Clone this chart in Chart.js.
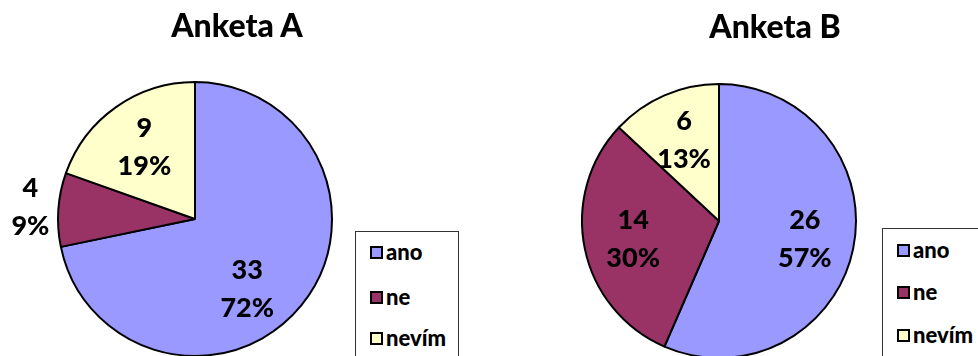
<!DOCTYPE html>
<html><head><meta charset="utf-8">
<script src="https://cdn.jsdelivr.net/npm/chart.js@4/dist/chart.umd.min.js"></script>
<style>
html,body{margin:0;padding:0;background:#fff;overflow:hidden;width:978px;height:356px}
#wrap{position:relative;width:978px;height:356px;overflow:hidden;font-family:Lato,"DejaVu Sans",sans-serif;font-weight:900;color:#000}
canvas{position:absolute;top:0}
.title{position:absolute;font-size:32px;line-height:1;white-space:nowrap;transform:translateX(-50%)}
.legend{position:absolute;border:1px solid #333;background:#fff;box-sizing:border-box}
.item{position:absolute;height:24px;font-size:22px;line-height:24px;white-space:nowrap;display:flex;align-items:center}
.sw{display:inline-block;width:9px;height:9px;border:2px solid #000;margin-right:3px}
</style>
</head><body>
<div id="wrap">
  <canvas id="cA" width="489" height="360" style="left:0"></canvas>
  <canvas id="cB" width="489" height="360" style="left:489px"></canvas>
  <div class="title" id="tA" style="left:237px;top:9px"></div>
  <div class="title" id="tB" style="left:775px;top:10px"></div>
  <div class="legend" id="lA" style="left:355px;top:231px;width:104px;height:140px"></div>
  <div class="legend" id="lB" style="left:882px;top:228px;width:120px;height:140px"></div>
</div>
<script>
const categories = ["ano", "ne", "nevím"];
const colors = ["#9999FF", "#993366", "#FFFFCC"];
const titleA = "Anketa A";
const titleB = "Anketa B";
const valuesA = [33, 4, 9];
const valuesB = [26, 14, 6];
const percentA = [72, 9, 19];
const percentB = [57, 30, 13];

const sliceLabels = {
  id: 'sliceLabels',
  afterDatasetsDraw(chart, args, opts) {
    const ctx = chart.ctx;
    const meta = chart.getDatasetMeta(0);
    const data = chart.data.datasets[0].data;
    ctx.save();
    ctx.font = '900 27px Lato, "DejaVu Sans", sans-serif';
    ctx.fillStyle = '#000';
    ctx.textAlign = 'center';
    ctx.textBaseline = 'middle';
    meta.data.forEach((arc, i) => {
      const p = arc.getProps(['x', 'y', 'startAngle', 'endAngle', 'outerRadius'], true);
      const frac = (p.endAngle - p.startAngle) / (2 * Math.PI);
      let mid = (p.startAngle + p.endAngle) / 2;
      if (frac > 0.65) mid += 0.25;
      const r = frac < 0.1 ? p.outerRadius + 28 : p.outerRadius * 0.64;
      const cx = p.x + Math.cos(mid) * r;
      const cy = p.y + Math.sin(mid) * r;
      ctx.fillText(String(data[i]), cx, cy - 19);
      ctx.fillText(opts.pct[i] + '%', cx, cy + 19);
    });
    ctx.restore();
  }
};

function makePie(id, values, pct, padding) {
  return new Chart(document.getElementById(id), {
    type: 'pie',
    data: {
      labels: categories,
      datasets: [{
        data: values,
        backgroundColor: colors,
        borderColor: '#000',
        borderWidth: 2
      }]
    },
    options: {
      responsive: false,
      animation: false,
      devicePixelRatio: 1,
      layout: { padding: padding },
      plugins: {
        legend: { display: false },
        tooltip: { enabled: false },
        title: { display: false },
        sliceLabels: { pct: pct }
      }
    },
    plugins: [sliceLabels]
  });
}

makePie('cA', valuesA, percentA, { left: 57, right: 156, top: 81, bottom: 3 });
makePie('cB', valuesB, percentB, { left: 92, right: 121, top: 83, bottom: 1 });

document.getElementById('tA').textContent = titleA;
document.getElementById('tB').textContent = titleB;

function buildLegend(id, centers) {
  const box = document.getElementById(id);
  categories.forEach((c, i) => {
    const it = document.createElement('div');
    it.className = 'item';
    it.style.left = '14px';
    it.style.top = (centers[i] - 12) + 'px';
    const sw = document.createElement('span');
    sw.className = 'sw';
    sw.style.background = colors[i];
    const tx = document.createElement('span');
    tx.textContent = c;
    it.appendChild(sw);
    it.appendChild(tx);
    box.appendChild(it);
  });
}
buildLegend('lA', [20, 65, 106]);
buildLegend('lB', [21, 63, 106]);
</script>
</body></html>
